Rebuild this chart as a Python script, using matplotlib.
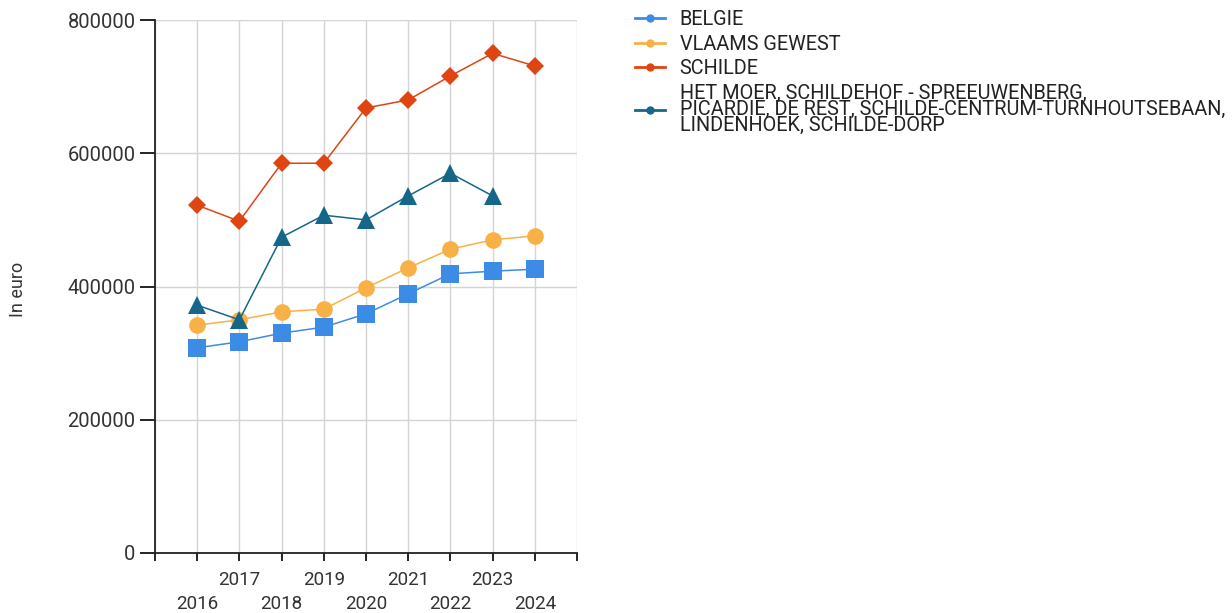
import numpy as np
import matplotlib
matplotlib.use("Agg")
import matplotlib.pyplot as plt
from matplotlib.lines import Line2D

plt.rcParams['font.family'] = ['Roboto', 'DejaVu Sans']

# data
years = [2016, 2017, 2018, 2019, 2020, 2021, 2022, 2023, 2024]
belgie = [308000, 317000, 330000, 339000, 359000, 389000, 419000, 423000, 426000]
vlaams = [342000, 350000, 362000, 366000, 398000, 428000, 456000, 470000, 476000]
schilde = [522000, 498000, 585000, 585000, 668000, 680000, 716000, 750000, 731000]
wijk = [372000, 350000, 474000, 507000, 500000, 536000, 570000, 536000, np.nan]

labels = ["BELGIE", "VLAAMS GEWEST", "SCHILDE",
          "HET MOER, SCHILDEHOF - SPREEUWENBERG,\n"
          "PICARDIE, DE REST, SCHILDE-CENTRUM-TURNHOUTSEBAAN,\n"
          "LINDENHOEK, SCHILDE-DORP"]
colors = ['#3c8ce6', '#f8b147', '#df4512', '#15678a']
markers = ['s', 'o', 'D', '^']
msizes = [12.5, 12, 9.5, 12.5]
series = [belgie, vlaams, schilde, wijk]

fig = plt.figure(figsize=(12.32, 6.13), dpi=100)
ax = fig.add_axes([155 / 1232, 1 - 553 / 613, (577 - 155) / 1232, (553 - 20) / 613])

x = np.arange(len(years))
for vals, c, m, ms in zip(series, colors, markers, msizes):
    ax.plot(x, vals, color=c, lw=1.1, marker=m, markersize=ms,
            markeredgewidth=0, zorder=3)

ax.set_xlim(-1, 9)
ax.set_ylim(0, 800000)
ax.set_yticks([0, 200000, 400000, 600000, 800000])
ax.set_yticklabels(['0', '200000', '400000', '600000', '800000'])

ticks = list(range(-1, 10))
ticklabels = ['']
for i, yr in enumerate(years):
    ticklabels.append(str(yr) if i % 2 == 1 else '\n' + str(yr))
ticklabels.append('')
ax.set_xticks(ticks)
ax.set_xticklabels(ticklabels, linespacing=1.4)

ax.tick_params(axis='y', labelsize=14.5, labelcolor='#333333', length=11,
               width=1.2, pad=3)
ax.tick_params(axis='x', labelsize=13.5, labelcolor='#333333', length=6,
               width=1.2, pad=7)
ax.grid(True, color='#d4d4d4', lw=1, zorder=0)
for s in ['top', 'right']:
    ax.spines[s].set_visible(False)
for s in ['left', 'bottom']:
    ax.spines[s].set_color('#222222')
    ax.spines[s].set_linewidth(1.3)

fig.text(18 / 1232, 1 - 289 / 613, 'In euro', rotation=90, ha='center',
         va='center', fontsize=13, color='#333333')

handles = [Line2D([], [], color=c, lw=2, marker='o', markersize=5)
           for c in colors]
leg = fig.legend(handles, labels, loc='upper left',
                 bbox_to_anchor=(635 / 1232, 1 - 10 / 613), frameon=False,
                 fontsize=14.3, handlelength=1.5, handletextpad=0.75,
                 labelspacing=0.28, borderpad=0, borderaxespad=0)
for t in leg.get_texts():
    t.set_linespacing(0.8)
    t.set_color('#222222')

fig.savefig('out.png', dpi=100)
